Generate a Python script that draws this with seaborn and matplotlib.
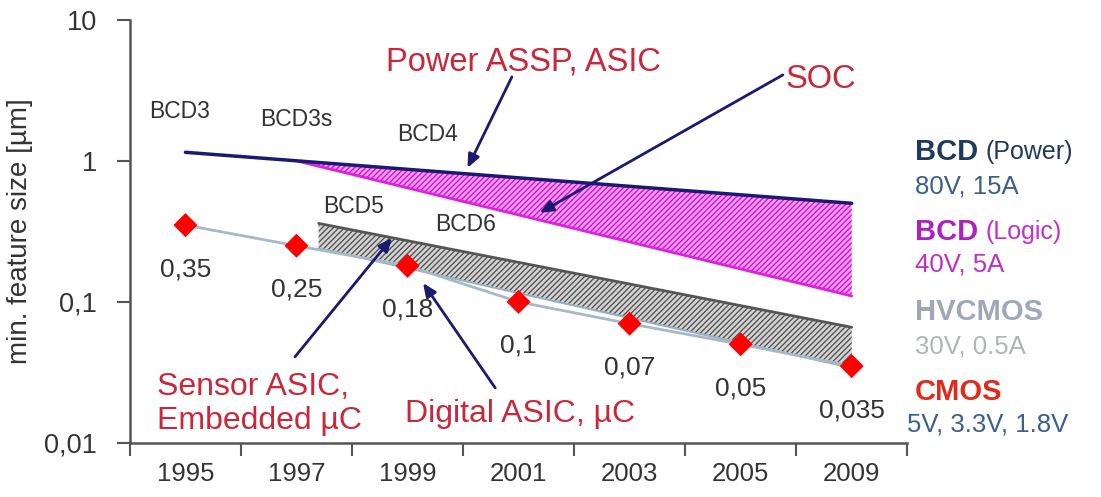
import matplotlib
matplotlib.use('Agg')

import numpy as np
import pandas as pd
import matplotlib.pyplot as plt
import seaborn as sns

# ========== DATA ==========
years = ['1995', '1997', '1999', '2001', '2003', '2005', '2009']
cmos_size = [0.35, 0.25, 0.18, 0.1, 0.07, 0.05, 0.035]
cmos_labels = ['0,35', '0,25', '0,18', '0,1', '0,07', '0,05', '0,035']

# BCD power line (start / end category index and value)
power_x = [0, 6]
power_y = [1.15, 0.5]

# BCD logic (SOC) wedge
logic_x = [1, 6]
logic_top = [1.0, 0.5]
logic_bottom = [1.0, 0.11]

# HVCMOS band
hv_x = [1.2, 6]
hv_top = [0.36, 0.066]
hv_bottom = [0.24, 0.034]

yticks = [0.01, 0.1, 1, 10]
ytick_labels = ['0,01', '0,1', '1', '10']

df = pd.DataFrame({'pos': np.arange(len(years)), 'size': cmos_size})

# ========== STYLE ==========
sns.set_style('ticks')
plt.rcParams['font.family'] = ['Liberation Sans', 'DejaVu Sans']
plt.rcParams['hatch.linewidth'] = 1.0

navy = '#1a1a6e'
red_txt = '#c8283a'
txt_gray = '#333333'
axis_gray = '#555555'

fig = plt.figure(figsize=(11.01, 4.97), dpi=100)
ax = fig.add_axes([0.118, 0.109, 0.706, 0.851])

# ========== BANDS ==========
ax.fill_between(logic_x, logic_bottom, logic_top, facecolor='#f7a0f5',
                edgecolor='#d010d0', hatch='//////', linewidth=0, zorder=1)
sns.lineplot(x=logic_x, y=logic_bottom, color='#e020e0', lw=2, ax=ax, zorder=2)

ax.fill_between(hv_x, hv_bottom, hv_top, facecolor='#d4d4d4',
                edgecolor='#555555', hatch='//////', linewidth=0, zorder=1)
sns.lineplot(x=hv_x, y=hv_top, color='#555555', lw=2, ax=ax, zorder=2)
sns.lineplot(x=hv_x, y=hv_bottom, color='#9ab0c0', lw=1.5, ax=ax, zorder=2)

sns.lineplot(x=power_x, y=power_y, color=navy, lw=2.5, ax=ax, zorder=3)

# ========== CMOS POINTS ==========
sns.lineplot(data=df, x='pos', y='size', color='#a8b8c8', lw=2, ax=ax, zorder=2)
sns.scatterplot(data=df, x='pos', y='size', marker='D', s=150, color='#ff0000',
                edgecolor='none', ax=ax, zorder=4)
for p, v, lab in zip(df['pos'], cmos_size, cmos_labels):
    ax.annotate(lab, (p, v), xytext=(0, -44), textcoords='offset pixels',
                ha='center', va='center', fontsize=19, color=txt_gray)

# ========== PROCESS LABELS ==========
for lab, x, y in [('BCD3', -0.05, 2.23), ('BCD3s', 1.0, 1.95), ('BCD4', 2.18, 1.53),
                  ('BCD5', 1.51, 0.472), ('BCD6', 2.52, 0.352)]:
    ax.text(x, y, lab, ha='center', va='center', fontsize=16.5, color=txt_gray)

# ========== ANNOTATIONS ==========
arrow = dict(arrowstyle='-|>,head_length=0.8,head_width=0.35', color=navy, lw=2,
             shrinkA=0, shrinkB=0)
ax.text(3.04, 5.04, 'Power ASSP, ASIC', ha='center', va='center', fontsize=23.5, color=red_txt)
ax.annotate('', xy=(2.54, 0.892), xytext=(2.94, 3.94), arrowprops=arrow)

ax.text(5.72, 3.75, 'SOC', ha='center', va='center', fontsize=23.5, color=red_txt)
ax.annotate('', xy=(3.19, 0.428), xytext=(5.38, 4.07), arrowprops=arrow)

ax.text(-0.26, 0.0189, 'Sensor ASIC,\nEmbedded µC', ha='left', va='center',
        fontsize=23, color=red_txt, linespacing=1.15)
ax.annotate('', xy=(1.86, 0.284), xytext=(0.986, 0.0407), arrowprops=arrow)

ax.text(1.98, 0.0161, 'Digital ASIC, µC', ha='left', va='center', fontsize=23, color=red_txt)
ax.annotate('', xy=(2.14, 0.136), xytext=(2.79, 0.0245), arrowprops=arrow)

# ========== AXES ==========
ax.set_yscale('log')
ax.set_ylim(0.01, 10)
ax.set_yticks(yticks)
ax.set_yticklabels(ytick_labels)
ax.yaxis.set_minor_locator(matplotlib.ticker.NullLocator())
ax.set_xlim(-0.5, len(years) - 0.5)
ax.set_xticks(np.arange(-0.5, len(years), 1.0))
ax.set_xticklabels([])
ax.set_xticks(np.arange(len(years)), minor=True)
ax.set_xticklabels(years, minor=True)
ax.tick_params(axis='x', which='minor', length=0, pad=14, labelsize=18.5, labelcolor=txt_gray)
ax.tick_params(axis='x', which='major', length=9, width=1.5, color=axis_gray)
ax.tick_params(axis='y', length=9.5, width=1.5, color=axis_gray, labelsize=19.5,
               labelcolor=txt_gray, pad=14)
ax.set_xlabel('')
ax.set_ylabel('min. feature size [µm]', fontsize=20, color=txt_gray, labelpad=8)
sns.despine(ax=ax)
for s in ['left', 'bottom']:
    ax.spines[s].set_color(axis_gray)
    ax.spines[s].set_linewidth(1.8)

# ========== RIGHT LEGEND TEXT ==========
lx = 0.831
legend_rows = [
    (0.694, 'BCD', '(Power)', '#1f3a5f', '#1f3a5f'),
    (0.533, 'BCD', '(Logic)', '#b020c0', '#c030d0'),
    (0.372, 'HVCMOS', '', '#a0a8b8', '#a0a8b8'),
    (0.211, 'CMOS', '', '#e02a1a', '#e02a1a'),
]
sub_rows = [
    (0.624, '80V, 15A', '#3a5f8a'),
    (0.467, '40V, 5A', '#c030c0'),
    (0.302, '30V, 0.5A', '#b0b4bc'),
    (0.145, '5V, 3.3V, 1.8V', '#3a5f8a'),
]
fig.canvas.draw()
renderer = fig.canvas.get_renderer()
for y, head, extra, c1, c2 in legend_rows:
    t = fig.text(lx, y, head, fontsize=21, fontweight='bold', color=c1, va='center')
    if extra:
        bb = t.get_window_extent(renderer)
        fig.text(bb.x1 / fig.bbox.width + 0.007, y, extra, fontsize=18, color=c2, va='center')
for y, s, c in sub_rows:
    fig.text(lx - (0.007 if s.startswith('5V') else 0), y, s, fontsize=18.5, color=c, va='center')

fig.savefig('out.png', dpi=100)
